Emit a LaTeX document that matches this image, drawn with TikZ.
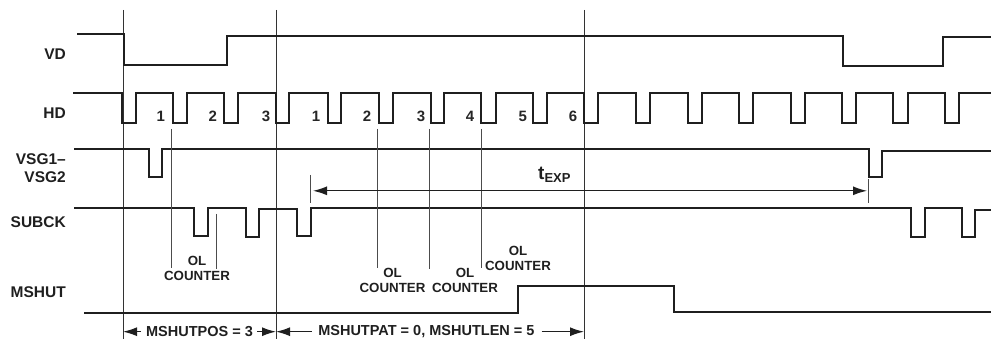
\documentclass[tikz,border=0pt]{standalone}
\usepackage{fontspec}
\setmainfont{Liberation Sans}
\usetikzlibrary{arrows.meta}
\tikzset{
  sig/.style={draw=black!88,line width=2pt,line join=miter},
  guide/.style={draw=black!80,line width=1pt},
  tick/.style={draw=black!70,line width=1pt},
  dim/.style={draw=black!88,line width=1.3pt,-{Latex[length=14pt,width=9pt]}},
  lab/.style={font=\bfseries\fontsize{13.3}{15}\selectfont,text=black!88,inner sep=0pt,align=center},
  siglab/.style={font=\bfseries\fontsize{15.5}{18}\selectfont,text=black!88,inner sep=0pt,align=right,anchor=east},
  dimlab/.style={font=\bfseries\fontsize{14.5}{16}\selectfont,text=black!88,inner sep=0pt},
  num/.style={font=\bfseries\fontsize{15}{16}\selectfont,text=black!85,inner sep=0pt},
}
\begin{document}
\begin{tikzpicture}[x=1pt,y=-1pt]
\useasboundingbox (0,0) rectangle (991,339);
% guides
\coordinate (g1t) at (123,10); \coordinate (g1b) at (123,339);
\coordinate (g2t) at (276,10); \coordinate (g2b) at (276,339);
\coordinate (g3t) at (584,10); \coordinate (g3b) at (584,339);
\draw[guide] (g1t)--(g1b);
\draw[guide] (g2t)--(g2b);
\draw[guide] (g3t)--(g3b);
% signals
\draw[sig] (77,34.5)-|(123.5,65.5)-|(227,36)-|(842.5,66)-|(942.7,37.5)--(991,37.5);
\draw[sig] (73,93)--(122,93)
 \foreach \f/\u in {122/135.5,172.7/186.7,224/238,276/289,327.7/341,379/393,430.7/444,481/495.7,533/547,584/598,636/650,687.7/701.7,739/753,790.7/805,842/856,893/907.7,945/959}{
   --(\f,93)--(\f,123)--(\u,123)--(\u,93)} --(991,93);
\draw[sig] (74,149.5)-|(149,177)-|(161.7,149.5)-|(868.7,177.5)-|(882,150.7)--(991,150.7);
\draw[sig] (74,208.5)-|(194.3,236)-|(207.7,208.5)-|(245.7,237)-|(259,209.5)-|(297.3,236)-|(310.7,208.5)-|(911,237)-|(924.7,208.5)-|(962,237)-|(975,210)--(991,210);
\draw[sig] (84,312.7)-|(518,286)-|(673.7,311.7)--(991,311.7);
% ticks
\draw[tick] (171,129)--(171,268);
\draw[tick] (377.7,129)--(377.7,268);
\draw[tick] (429,129)--(429,268.7);
\draw[tick] (481,129)--(481,268);
\draw[tick] (216.7,214)--(216.7,268.7);
\draw[tick] (310.3,175)--(310.3,203);
\draw[tick] (868,179)--(868,202.7);
% labels
\node[siglab] (lvd) at (66,54.5) {VD};
\node[siglab] (lhd) at (66,113) {HD};
\node[siglab] (lvsg) at (66,168) {VSG1–\\VSG2};
\node[siglab] (lsub) at (66,221.7) {SUBCK};
\node[siglab] (lms) at (66,292.5) {MSHUT};
\foreach \n/\x/\t in {a/160.7/1,b/212.7/2,c/266/3,d/316/1,e/367/2,f/421/3,g/470/4,h/522.7/5,i/573/6}
  \node[num] (n\n) at (\x,116.7) {\t};
\node[lab] (c1) at (197,268.5) {OL\\COUNTER};
\node[lab] (c2) at (392.5,280) {OL\\COUNTER};
\node[lab] (c3) at (465,280) {OL\\COUNTER};
\node[lab] (c4) at (518,258) {OL\\COUNTER};
% dims
\node[inner sep=0pt,anchor=base west,font=\bfseries\fontsize{19}{20}\selectfont,text=black!88] (texp) at (538,179.5) {t\raisebox{-3.5pt}{\fontsize{13}{14}\selectfont EXP}};
\coordinate (tl) at (313,190.8); \coordinate (tr) at (867,190.8);
\draw[dim,{Latex[length=14pt,width=9pt]}-{Latex[length=14pt,width=9pt]}] (tl)--(tr);
\node[dimlab] (mp) at (199.5,332) {MSHUTPOS = 3};
\node[dimlab] (ml) at (426.4,332) {MSHUTPAT = 0, MSHUTLEN = 5};
\coordinate (e1) at (123,331.7); \coordinate (e2) at (276,331.7); \coordinate (e3) at (584,331.7);
\coordinate (t1) at (141,331.7); \coordinate (t2) at (257,331.7); \coordinate (t3) at (311.7,331.7); \coordinate (t4) at (541.7,331.7);
\draw[dim] (t1)--(e1);
\draw[dim] (t2)--(e2);
\draw[dim] (t3)--(e2);
\draw[dim] (t4)--(e3);
\end{tikzpicture}
\end{document}
